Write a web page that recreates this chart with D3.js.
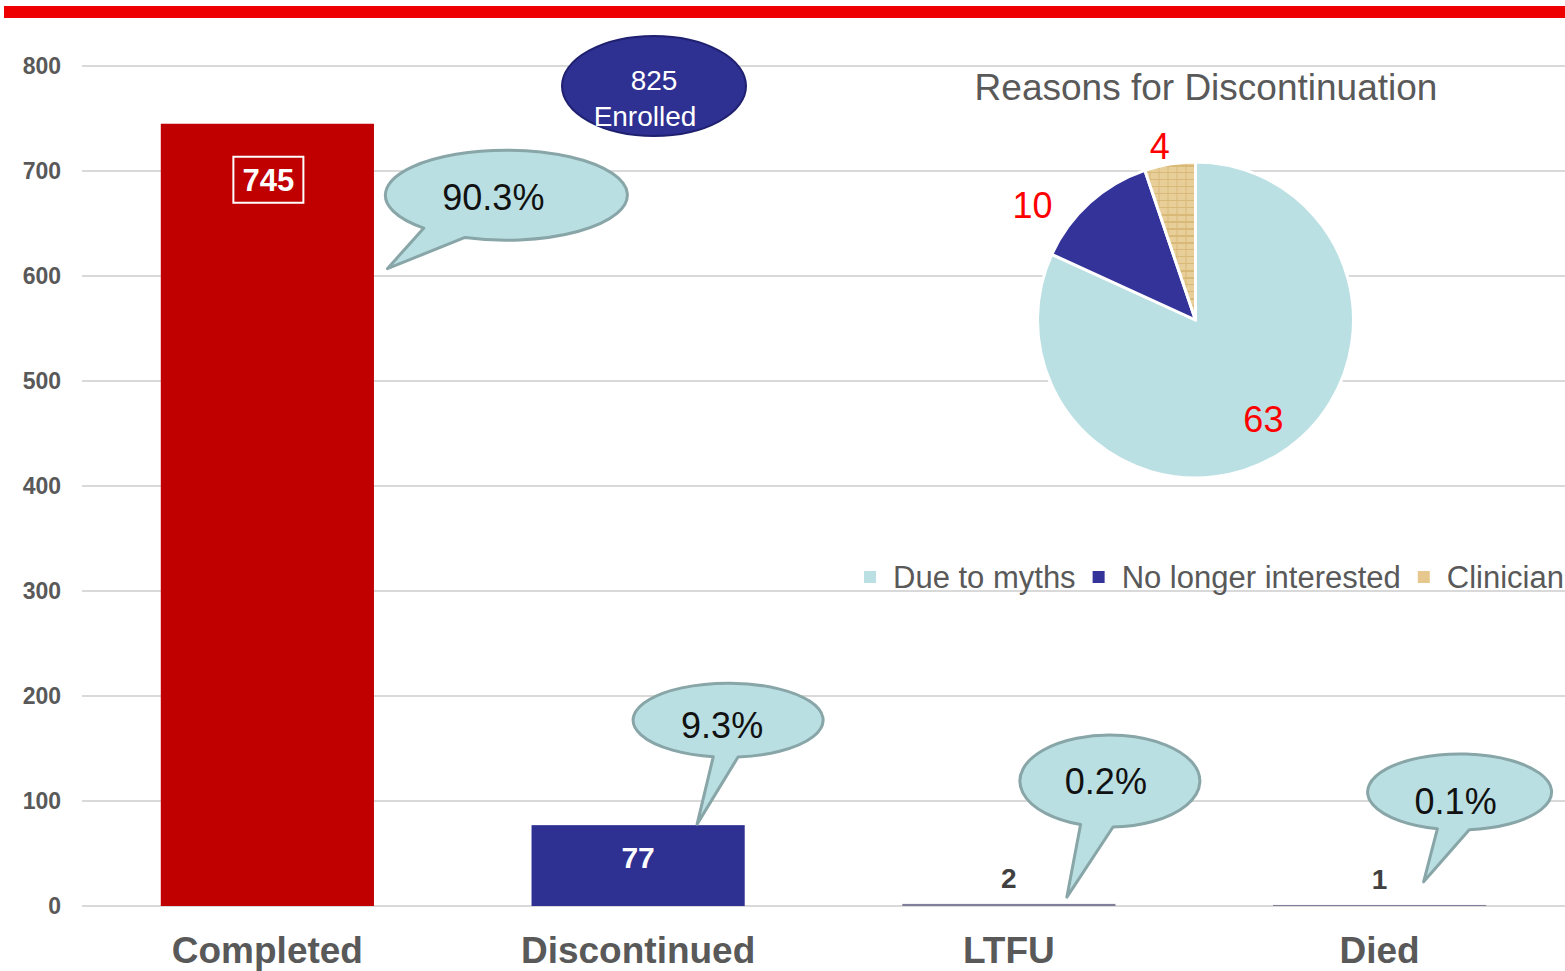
<!DOCTYPE html>
<html lang="en">
<head>
<meta charset="utf-8">
<title>Enrollment outcomes</title>
<script src="https://cdn.jsdelivr.net/npm/d3@7"></script>
<style>
  html, body { margin: 0; padding: 0; background: #fff; }
  svg { display: block; font-family: Arial, "Liberation Sans", sans-serif; }
  .grid line { stroke: #d9d9d9; stroke-width: 2px; }
  .tick-label { fill: #595959; font-weight: bold; font-size: 23px; }
  .cat-label { fill: #595959; font-weight: bold; font-size: 37px; }
  .callout path { fill: #b9dfe2; stroke: #88a5a7; stroke-width: 3px; stroke-linejoin: round; }
  .callout text { fill: #111; font-size: 36px; }
</style>
</head>
<body>
<div id="chart"></div>
<script>
var width = 1565, height = 971;

// bar data
var categories = ["Completed", "Discontinued", "LTFU", "Died"];
var counts = [745, 77, 2, 1];
var percents = ["90.3%", "9.3%", "0.2%", "0.1%"];
var yTicks = [0, 100, 200, 300, 400, 500, 600, 700, 800];
var enrolled = 825;

// pie data
var reasons = ["Due to myths", "No longer interested", "Clinician"];
var reasonCounts = [63, 10, 4];

var barColors = ["#c00000", "#2e3092", "#80809a", "#80809a"];
var pieColors = ["#bbe0e3", "#333399", "url(#tan)"];
var legendColors = ["#bbe0e3", "#333399", "#e6c88e"];

var svg = d3.select("#chart").append("svg")
    .attr("width", width)
    .attr("height", height);

var defs = svg.append("defs");
var tan = defs.append("pattern")
    .attr("id", "tan")
    .attr("patternUnits", "userSpaceOnUse")
    .attr("width", 9).attr("height", 7);
tan.append("rect").attr("width", 9).attr("height", 7).attr("fill", "#e8cf9a");
tan.append("path").attr("d", "M0,6.5H9M8.5,0V7").attr("stroke", "#d8b978").attr("stroke-width", 1);

// red banner on top
svg.append("rect")
    .attr("x", 4).attr("y", 6)
    .attr("width", width - 4).attr("height", 12)
    .attr("fill", "#ee0000");

var x = d3.scaleBand()
    .domain(categories)
    .range([82, 1565])
    .paddingInner(0.425)
    .paddingOuter(0.2125);

var y = d3.scaleLinear()
    .domain([0, 800])
    .range([906, 66]);

// gridlines + tick labels
var grid = svg.append("g").attr("class", "grid");
grid.selectAll("line")
    .data(yTicks)
  .enter().append("line")
    .attr("x1", 82).attr("x2", width)
    .attr("y1", function(d) { return y(d); })
    .attr("y2", function(d) { return y(d); });

svg.append("g").selectAll("text")
    .data(yTicks)
  .enter().append("text")
    .attr("class", "tick-label")
    .attr("x", 61)
    .attr("y", function(d) { return y(d) + 8; })
    .attr("text-anchor", "end")
    .text(function(d) { return d; });

// bars
svg.append("g").selectAll("rect")
    .data(counts)
  .enter().append("rect")
    .attr("x", function(d, i) { return x(categories[i]); })
    .attr("y", function(d) { return y(d); })
    .attr("width", x.bandwidth())
    .attr("height", function(d) { return y(0) - y(d); })
    .attr("fill", function(d, i) { return barColors[i]; });

function cx(i) { return x(categories[i]) + x.bandwidth() / 2; }

// value labels
var g745 = svg.append("g");
g745.append("rect")
    .attr("x", cx(0) - 34).attr("y", y(counts[0]) + 33)
    .attr("width", 70).attr("height", 46)
    .attr("fill", "none").attr("stroke", "#fff").attr("stroke-width", 2);
g745.append("text")
    .attr("x", cx(0) + 1).attr("y", y(counts[0]) + 67)
    .attr("text-anchor", "middle")
    .attr("fill", "#fff").attr("font-weight", "bold").attr("font-size", 31)
    .text(counts[0]);

svg.append("text")
    .attr("x", cx(1)).attr("y", y(counts[1]) + 43)
    .attr("text-anchor", "middle")
    .attr("fill", "#fff").attr("font-weight", "bold").attr("font-size", 30)
    .text(counts[1]);

[2, 3].forEach(function(i) {
  svg.append("text")
      .attr("x", cx(i)).attr("y", y(counts[i]) - 16)
      .attr("text-anchor", "middle")
      .attr("fill", "#404040").attr("font-weight", "bold").attr("font-size", 28)
      .text(counts[i]);
});

// category labels
svg.append("g").selectAll("text")
    .data(categories)
  .enter().append("text")
    .attr("class", "cat-label")
    .attr("x", function(d, i) { return cx(i); })
    .attr("y", 963)
    .attr("text-anchor", "middle")
    .text(function(d) { return d; });

// speech-bubble callouts: centre/tip offsets from band centre (px) and value (y units)
var callouts = [
  {dx: 239, v: 677, rx: 121, ry: 45, a0: 110, a1: 133, tipDx: 120, tipV: 607, tdx: -13, tdy: 15},
  {dx: 90,  v: 177, rx: 95,  ry: 37, a0: 84,  a1: 99,  tipDx: 59,  tipV: 78,  tdx: -6,  tdy: 18},
  {dx: 101, v: 119, rx: 90,  ry: 46, a0: 88,  a1: 109, tipDx: 58,  tipV: 8.5, tdx: -4,  tdy: 13},
  {dx: 80,  v: 108.6, rx: 92, ry: 38, a0: 84, a1: 104, tipDx: 44, tipV: 23,  tdx: -4,  tdy: 22}
];

function bubblePath(c, ox, oy, tx, ty) {
  var r = Math.PI / 180;
  var pa = [ox + c.rx * Math.cos(c.a0 * r), oy + c.ry * Math.sin(c.a0 * r)];
  var pb = [ox + c.rx * Math.cos(c.a1 * r), oy + c.ry * Math.sin(c.a1 * r)];
  return "M" + pb[0] + "," + pb[1] +
    "A" + c.rx + "," + c.ry + " 0 1 1 " + pa[0] + "," + pa[1] +
    "L" + tx + "," + ty + "Z";
}

callouts.forEach(function(c, i) {
  var ox = cx(i) + c.dx, oy = y(c.v);
  var g = svg.append("g").attr("class", "callout");
  g.append("path").attr("d", bubblePath(c, ox, oy, cx(i) + c.tipDx, y(c.tipV)));
  g.append("text")
      .attr("x", ox + c.tdx).attr("y", oy + c.tdy)
      .attr("text-anchor", "middle")
      .text(percents[i]);
});

// enrolled ellipse
var enr = svg.append("g");
enr.append("ellipse")
    .attr("cx", 654).attr("cy", 86)
    .attr("rx", 92).attr("ry", 50)
    .attr("fill", "#2e3092").attr("stroke", "#1f2170").attr("stroke-width", 2);
enr.append("text")
    .attr("x", 654).attr("y", 90)
    .attr("text-anchor", "middle").attr("fill", "#fff").attr("font-size", 28)
    .text(enrolled);
enr.append("text")
    .attr("x", 645).attr("y", 126)
    .attr("text-anchor", "middle").attr("fill", "#fff").attr("font-size", 28)
    .text("Enrolled");

// pie: reasons for discontinuation
var pieCx = 1195.5, pieCy = 320, pieR = 158;

svg.append("text")
    .attr("x", 1206).attr("y", 100)
    .attr("text-anchor", "middle")
    .attr("fill", "#595959").attr("font-size", 37)
    .text("Reasons for Discontinuation");

var pie = d3.pie().sort(null)(reasonCounts);
var arc = d3.arc().innerRadius(0).outerRadius(pieR);

var pg = svg.append("g").attr("transform", "translate(" + pieCx + "," + pieCy + ")");
pg.selectAll("path")
    .data(pie)
  .enter().append("path")
    .attr("d", arc)
    .attr("fill", function(d, i) { return pieColors[i]; })
    .attr("stroke", "#fff")
    .attr("stroke-width", 3)
    .attr("stroke-linejoin", "round");

// label radius and angle nudge per slice
var labelPos = [{r: 120, da: -0.03}, {r: 199, da: -0.225}, {r: 177, da: -0.04}];
pg.selectAll("text")
    .data(pie)
  .enter().append("text")
    .attr("transform", function(d, i) {
      var a = (d.startAngle + d.endAngle) / 2 + labelPos[i].da;
      var r = labelPos[i].r;
      return "translate(" + (r * Math.sin(a)) + "," + (-r * Math.cos(a)) + ")";
    })
    .attr("dy", "0.35em")
    .attr("text-anchor", "middle")
    .attr("fill", "#ff0000").attr("font-size", 36)
    .text(function(d) { return d.data; });

// legend
var lx = 864;
var legend = svg.append("g");
reasons.forEach(function(name, i) {
  legend.append("rect")
      .attr("x", lx).attr("y", 571)
      .attr("width", 12).attr("height", 12)
      .attr("fill", legendColors[i]);
  var t = legend.append("text")
      .attr("x", lx + 29).attr("y", 588)
      .attr("fill", "#595959").attr("font-size", 31)
      .text(name);
  lx += 29 + t.node().getComputedTextLength() + 17;
});
</script>
</body>
</html>
